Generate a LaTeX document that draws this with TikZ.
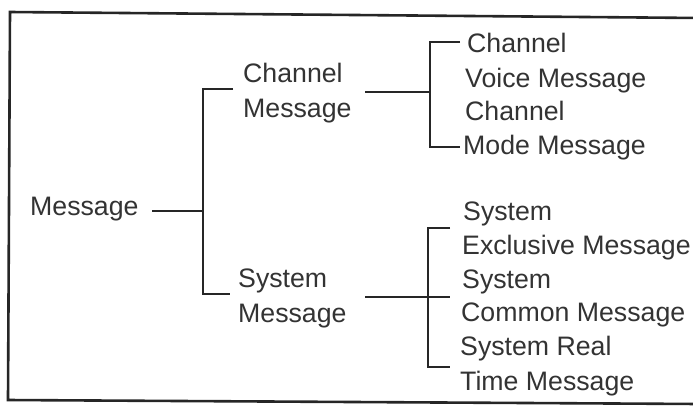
\documentclass[tikz,border=0pt]{standalone}
\usepackage{fontspec}
\setmainfont{Liberation Sans}
\begin{document}
\begin{tikzpicture}[x=1pt,y=-1pt,
  lbl/.style={anchor=base west,inner sep=0pt,text=black!80,font=\fontsize{26.7}{30}\selectfont},
  conn/.style={draw=black!85,line width=1.8pt},
  frame/.style={draw=black!85,line width=2.6pt}]
\useasboundingbox (0,0) rectangle (693,408);
% frame (open on the right)
\draw[frame] (700,18) -- (10,12) -- (8,400) -- (700,404);
% labels
\node[lbl] (msg) at (30,215) {Message};
\node[lbl] (cm1) at (243,82) {Channel};
\node[lbl] (cm2) at (243,117) {Message};
\node[lbl] (sm1) at (238,287) {System};
\node[lbl] (sm2) at (238,322) {Message};
\node[lbl] (u1) at (467,52) {Channel};
\node[lbl] (u2) at (465,87) {Voice Message};
\node[lbl] (u3) at (465,120) {Channel};
\node[lbl] (u4) at (463,154) {Mode Message};
\node[lbl] (l1) at (463,220) {System};
\node[lbl] (l2) at (462,254) {Exclusive Message};
\node[lbl] (l3) at (462,288) {System};
\node[lbl] (l4) at (461,321) {Common Message};
\node[lbl] (l5) at (460,355) {System Real};
\node[lbl] (l6) at (460,390) {Time Message};
% connector points
\coordinate (m0) at (152,211);
\coordinate (m1) at (203,211);
\coordinate (bt) at (203,89);
\coordinate (bb) at (203,294);
\coordinate (bte) at (233,89);
\coordinate (bbe) at (230,294);
\coordinate (c0) at (365,92);
\coordinate (c1) at (430,92);
\coordinate (ct) at (430,42);
\coordinate (cb) at (430,147);
\coordinate (cte) at (460,42);
\coordinate (cbe) at (460,147);
\coordinate (s0) at (365,297);
\coordinate (s1) at (428,297);
\coordinate (s2) at (450,297);
\coordinate (st) at (428,228);
\coordinate (sb) at (428,367);
\coordinate (ste) at (450,228);
\coordinate (sbe) at (450,367);
% connectors
\draw[conn] (m0) -- (m1);
\draw[conn] (bte) -- (bt) -- (bb) -- (bbe);
\draw[conn] (c0) -- (c1);
\draw[conn] (cte) -- (ct) -- (cb) -- (cbe);
\draw[conn] (s0) -- (s2);
\draw[conn] (ste) -- (st) -- (sb) -- (sbe);
\end{tikzpicture}
\end{document}
